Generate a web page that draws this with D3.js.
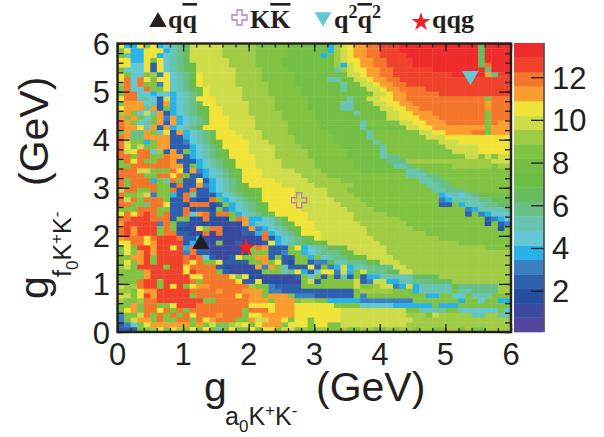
<!DOCTYPE html>
<html><head><meta charset="utf-8">
<script src="https://cdn.jsdelivr.net/npm/d3@7"></script>
<style>html,body{margin:0;padding:0;background:#fff}svg{display:block}text{font-family:"Liberation Sans",Arial,sans-serif;fill:#231f20}</style>
</head><body><svg id="c" width="604" height="437"></svg>
<script>
const xTicks=[0,1,2,3,4,5,6];
const yTicks=[0,1,2,3,4,5,6];
const zTicks=[2,4,6,8,10,12];
const zDomain=[0.065,13.6];
const palette=["#50479c","#3a4a9f","#2350a0","#2d5fac","#3a80c1","#27b2e8","#63c8d4","#68c4b0","#68bf87","#67bc5d","#6abd45","#72bf44","#80c241","#9fcb45","#cfdc4a","#f2e339","#fa9c2e","#f4762b","#f0422b","#ee2a2a"];
const legendItems=[
 {name:"qq",shape:"triangle",x:158,y:22},
 {name:"KK",shape:"plus",x:239.5,y:17.5},
 {name:"q2q2",shape:"down",x:323,y:17},
 {name:"qqg",shape:"star",x:421,y:22}];
const modelPoints=[
 {shape:"triangle",gx:1.27,gy:1.83},
 {shape:"plus",gx:2.77,gy:2.74},
 {shape:"star",gx:1.96,gy:1.75},
 {shape:"down",gx:5.38,gy:5.33}];
// colour level of each cell, top row first; "x>n" repeats x up to column n
const levelRows=[
"f55fcf56789 e>16 d>21 c>26 b>32 5def g>38 h>40 i>43 j>55 9 j>60",
"cf55fff5789 e>16 d>21 c>26 b>32 5def g>38 h>40 i>43 j>55 9 j>60",
"c755ff56789 e>16 d>21 c>26 b>31 5bdef g>38 h>40 i>44 j>55 9 j>60",
"ff55fcf6789 e>17 d>21 c>25 b>33 deff g>39 h>41 i>45 j>55 9 j>60",
"ff66f3f6789a e>17 d>21 c>25 b>33 d5ef g>39 h>41 i>45 j>55 9h j>60",
"c666f3f6789a e>18 d>22 c>26 b>33 7deff g>40 h>42 i>48 j>56 8 j>60",
"fc66cd4f678af e>18 d>22 c>27 b>35 eef g>40 h>42 i>51 j>56 g8 i>60",
"fh6hfcff678af e>18 d>22 c>27 b>32 77 b>36 e>38 f g>41 h>43 i>60",
"dh6hcc4f678af e>18 d>23 c>27 b>34 7 b>37 e>39 f g>42 h>44 i>60",
"ch66hccf6789a f>14 e>19 d>23 c>28 b>34 7 b>38 e>40 f g>43 h>47 i>60",
"chh665665 6789 f>14 e>19 d>23 c>28 b>39 e>41 f g>44 h>49 i>60",
"fhh7763e5678fff e>19 d>24 c>29 b>35 7 b>38 e>40 ff g>44 h>56 c h>60",
"cggg673g56789ff e>20 d>24 c>29 b>34 77 b>39 e>41 ff g>45 h>56 g h>60",
"fggg7g3c56789aff e>20 d>24 c>29 b>34 77 b>40 e>42 ff g>46 h>56 g h>60",
"dgc6e7g356789aff e>20 d>25 c>30 b>36 7 b>41 e>43 ff g>48 h>56 c h>60",
"gcgc6cg4g56789fff e>21 d>25 c>30 b>41 e>43 f>46 g>49 h>56 c h>60",
"hgc67cg3g56789fff e>21 d>26 c>31 b>37 7 c>43 e>45 f>47 g>50 h>56 c hgg",
"hggf7g3g 56789 f>17 e>21 d>26 c>31 b>37 7 b>44 e>46 f>48 g>56 c g>60",
"cg88gc7f3g56789fff e>22 d>26 c>32 b>38 7 c>46 e>48 f>50 g>54 h>56 c g>60",
"hg88gggg3356789 f>19 e>22 d>27 c>33 b>38 7 c>47 e>50 f>60",
"hecc5cgg3346 78aa f>20 e>23 d>27 c>33 b>39 7 c>49 e>52 f>60",
"hfceccgg33356 78a f>20 e>24 d>28 c>34 b>40 7 c>50 e>55 f>60",
"hefhh6d3g3c56789a f>20 e>24 d>29 c>35 b>40 7 c>51 e>55 f>60",
"hhchhcchgg356 78aa f>21 e>24 d>29 c>35 b>40 788 c>53 e>55 cece",
"chfhcchhg33356789a f>21 e>25 d>30 c>36 b>41 888 d>57 e>60",
"cchhhhhhgg3c56789a f>21 e>25 d>30 c>36 b>42 778 c>51 d>57 c d>60",
"hhheeccch f3g456789a f>22 e>27 d>31 c>37 b>44 778 c>60",
"hhhhcchhfhc33567 89a f>22 e>28 d>32 c>44 7778 8 c>60",
"hchhh5c7hc33f356789 f>24 e>29 d>34 c>46 7788 c>60",
"hchhhhcc3h33g456789a f>25 e>30 d>36 c>47 7788 c>60",
"ehhcchcch33h33 56789aa b>22 f>27 e>32 d>35 c>48 77888 c>60",
"hccde4cc53h7333 56789a a>22 f>27 e>32 d>36 c>49 567678 b>60",
"hehchhhc33h322hc56789a f>27 e>33 d>37 c>49 4 5777788 999",
"hhcc8hhf332hhh23c56789a a>23 f>28 e>34 d>38 c>49 33c5777 8899",
"ccchhhcc33h2332c456789 a>23 f>28 e>35 d>39 c>53 4577778",
"fhfhihch33h6gh3hhc56789 a f>29 e>36 d>41 c>53 3c45666 7",
"hhiiihhh3cc22h222chg5567 8a f>29 e>36 d>43 c>56 3456",
"giiiii4hc33 11221112g566 789a f>30 e>37 d>44 c>56 2c34",
"higiiichc221fchh2113g45678 9a f>30 e>38 d>45 c>58 2c",
"higiiichh3311h1h11133 5h5678a f>31 e>38 d>47 c>60",
"ghhhfhiiih335 111111111h356789a f>31 e>39 d>49 c>60",
"ffhhfgiiii351 11c1131113f56 7899aa e>40 d>52 c>60",
"cfciigiifi5h33 111111ch g333cf56789 9a e>41 d>56 c>60",
"cfcgigiiii4h33 111112ccc334cc56 7888aa e>41 d>60",
"ccggiciiiihih6311 3fccgg3c33cc5c67889aa e>42 d>60",
"cfcgiciiiihfhccf3333cc gcf32cc344a778 88aa e>43 d>60",
"deciiiiciifhhhh32111 1g4gc733 3f3c45e5778888 e>44 d>60",
"ccccgiiiiifihhhc311 122ccc78f5 36ff4e5ce 88899 e>45 d>60",
"ccccgiiiiiiffhhhhfcf2111111 3c6c3c373c355 7>45 9>49 d>60",
"ccchiiciiiihchhhhhf33f222211ce3ccccce34ee5577888999 d>60",
"eddhiicifi cfgghhhhhhdcc43333cccccccceccdee45e5 7>51 a 8>58 d>60",
"ddcfggiiiiihhhhghhhgggc443 3>36 c d>42 c>45 5 7>51 c77 8>58 d>60",
"eecfigiiiiichhhhhhfhggcggg c 4>30 3>36 c4 c>47 55 c>51 66c777 c>60",
"dccdhhiiiiiiicchhhhhgggcgggcddcc 5>37 4>45 c>52 5 c>55 6 c>58 55",
"ccgchhccfiiihhhhhhhhffffgggffffffccc c 6>42 5>48 c 5>52 c>60",
"cfgchhfhchchhhhhhhhchhhfggg f>34 e>44 cc 7>50 c>52 6>58 c6",
"4ccehchchchfhhhghhhcffggggg f>34 e>44 d>47 ced d>54 77 d>58 77",
"4ceggchcchhchfghhhccgeeggfcffc f>34 e>45 d>60",
"346cfggggggcgceccdefcfgggcfffcffcc e>44 d>60",
"333ccdfcfdcfcfc7cfccfcffcee cdcddccdccddccdcddcddccddcdcc d>60"
];
const x=d3.scaleLinear().domain([0,6]).range([117.5,511]);
const y=d3.scaleLinear().domain([0,6]).range([332,43.5]);
const z=d3.scaleLinear().domain(zDomain).range([332,43]);
const colour=d3.scaleQuantize().domain(zDomain).range(palette);
const step=(zDomain[1]-zDomain[0])/palette.length;
const codes="0123456789abcdefghij";
function decode(row){
  const out=[];
  for(const m of row.matchAll(/(\S)(?:>(\d+))?/g)){
    const v=codes.indexOf(m[1]);
    if(m[2]){while(out.length<+m[2])out.push(v);}else out.push(v);
  }
  while(out.length<60)out.push(out[out.length-1]);
  return out.slice(0,60);
}
const grid=levelRows.map(decode).map(r=>r.map(l=>zDomain[0]+(l+.5)*step));
const cw=6/60;
const svg=d3.select("#c");
const cells=[];
grid.forEach((r,i)=>r.forEach((v,j)=>cells.push({gx:j*cw,gy:6-i*cw,v})));
svg.append("g").selectAll("rect").data(cells).join("rect")
 .attr("x",d=>x(d.gx)).attr("y",d=>y(d.gy))
 .attr("width",x(cw)-x(0)+.4).attr("height",y(0)-y(cw)+.4)
 .attr("fill",d=>colour(d.v));
// frame & ticks
const minor=d3.range(0,6.001,.2);
const frame=svg.append("g");
const H0=332,W0=117.5,W1=511,T0=43.5;
[[d3.axisBottom(x),0,H0,-4,-8,xTicks],[d3.axisTop(x),0,T0,-4,-8,xTicks],[d3.axisLeft(y),W0,0,-6,-12,yTicks],[d3.axisRight(y),W1,0,-6,-12,yTicks]].forEach(([ax,tx,ty,l1,l2,maj])=>{
  const g=frame.append("g").attr("transform",`translate(${tx},${ty})`);
  g.call(ax.tickValues(minor).tickSize(l1).tickFormat(""));
  g.selectAll(".domain").remove();
  const g2=frame.append("g").attr("transform",`translate(${tx},${ty})`);
  g2.call(ax.tickValues(maj).tickSize(l2).tickFormat(""));
  g2.selectAll(".domain").remove();
});
frame.selectAll("line").attr("stroke","#231f20").attr("stroke-width",1.3);
frame.append("rect").attr("x",W0).attr("y",T0).attr("width",W1-W0).attr("height",H0-T0).attr("fill","none").attr("stroke","#231f20").attr("stroke-width",2.4);
// tick labels
const FS=31;
svg.append("g").selectAll("text").data(xTicks).join("text").attr("x",d=>x(d)).attr("y",365).attr("text-anchor","middle").attr("font-size",FS).text(d=>d);
svg.append("g").selectAll("text").data(yTicks).join("text").attr("x",110).attr("y",d=>y(d)+11.5).attr("text-anchor","end").attr("font-size",FS).text(d=>d);
// colour bar
const bar=svg.append("g");
bar.selectAll("rect").data(palette).join("rect")
 .attr("x",514).attr("width",29.5)
 .attr("y",(d,i)=>z(zDomain[0]+(i+1)*step)).attr("height",(d,i)=>z(zDomain[0]+i*step)-z(zDomain[0]+(i+1)*step)+.3)
 .attr("fill",d=>d);
const zg=bar.append("g").attr("transform","translate(544,0)");
zg.call(d3.axisRight(z).tickValues(zTicks).tickSize(-13).tickFormat(""));
zg.selectAll("line").attr("stroke","#231f20").attr("stroke-width",1.3);
zg.select(".domain").remove();
bar.append("line").attr("x1",544).attr("x2",544).attr("y1",43).attr("y2",332).attr("stroke","#3a3a3a").attr("stroke-width",1.5);
bar.append("g").selectAll("text").data(zTicks).join("text").attr("x",552).attr("y",d=>z(d)+11.5).attr("font-size",FS).text(d=>d);
// axis titles
svg.append("text").attr("x",204).attr("y",401).attr("font-size",41).text("g");
const sub=svg.append("text").attr("y",425);
function subTitle(sel,startX,first){
  sel.attr("font-size",25);
  sel.append("tspan").attr("x",startX).text(first);
  sel.append("tspan").attr("font-size",17).attr("dy",7).text("0");
  sel.append("tspan").attr("dy",-7).text("K");
  sel.append("tspan").attr("font-size",17).attr("dy",-9).text("+");
  sel.append("tspan").attr("dy",9).text("K");
  sel.append("tspan").attr("font-size",17).attr("dy",-9).text("-");
}
subTitle(sub,225,"a");
svg.append("text").attr("x",316).attr("y",401).attr("font-size",41).text("(GeV)");
const yt=svg.append("g").attr("transform","translate(48,0) rotate(-90)");
yt.append("text").attr("x",-299).attr("y",0).attr("font-size",41).text("g");
const ys=yt.append("text").attr("y",23);
subTitle(ys,-277,"f");
yt.append("text").attr("x",-186).attr("y",0).attr("font-size",41).text("(GeV)");
// markers
const sym={triangle:d3.symbolTriangle,star:d3.symbolStar,plus:d3.symbolCross,down:d3.symbolTriangle};
function marker(sel,s){
  const size=s==="star"?110:s==="plus"?125:s==="down"?120:130;
  sel.attr("d",d3.symbol().type(sym[s]).size(size)());
  const st={triangle:["#231f20","none"],star:["#ed2024","none"],plus:["#fff","#b57fb8"],down:["#63c8d4","none"]}[s];
  sel.attr("fill",st[0]).attr("stroke",st[1]).attr("stroke-width",1.3);
}
modelPoints.forEach(p=>{
  const g=svg.append("path").attr("transform",`translate(${x(p.gx)},${y(p.gy)})`+(p.shape==="down"?" rotate(180)":""));
  marker(g,p.shape);
  if(p.shape==="plus")g.attr("fill","none");
});
legendItems.forEach(p=>{
  const g=svg.append("path").attr("transform",`translate(${p.x},${p.y})`+(p.shape==="down"?" rotate(180)":""));
  marker(g,p.shape);
});
// legend text
const L=svg.append("g").attr("font-size",26);
function lt(px,py,parts){
  const t=L.append("text").attr("x",px).attr("y",py).style("font-family","Liberation Serif").style("font-weight","bold");
  parts.forEach(([s,o,sup],i)=>{
    const ts=t.append("tspan").text(s);
    if(o)ts.style("text-decoration","overline");
    if(sup)ts.attr("font-size",18).attr("dy",-10);
    else if(i>0&&parts[i-1][2])ts.attr("dy",10);
  });
}
lt(168,28,[["q"],["q",1]]);
lt(250,28,[["K"],["K",1]]);
lt(334,28,[["q"],["2",0,1],["q",1],["2",0,1]]);
lt(432,28,[["qqg"]]);
</script></body></html>
